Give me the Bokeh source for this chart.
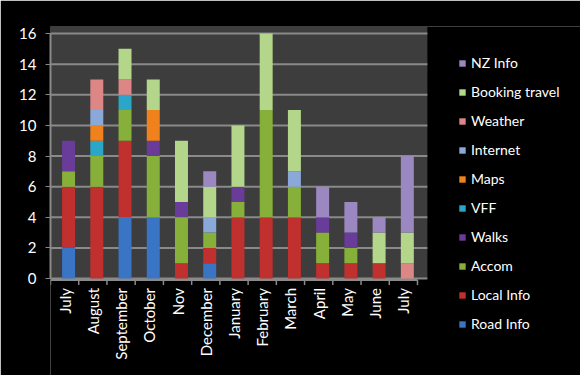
import math
from bokeh.plotting import figure
from bokeh.models import (ColumnDataSource, Range1d, FixedTicker, Legend, LegendItem)
from bokeh.core.properties import value
from bokeh.transform import dodge
from bokeh.embed import file_html
from bokeh.resources import INLINE

months = ["July", "August", "September", "October", "Nov", "December", "January",
          "February", "March", "April", "May", "June", "July"]

road_info = [2, 0, 4, 4, 0, 1, 0, 0, 0, 0, 0, 0, 0]
local_info = [4, 6, 5, 0, 1, 1, 4, 4, 4, 1, 1, 1, 0]
accom = [1, 2, 2, 4, 3, 1, 1, 7, 2, 2, 1, 0, 0]
walks = [2, 0, 0, 1, 1, 0, 1, 0, 0, 1, 1, 0, 0]
vff = [0, 1, 1, 0, 0, 0, 0, 0, 0, 0, 0, 0, 0]
maps = [0, 1, 0, 2, 0, 0, 0, 0, 0, 0, 0, 0, 0]
internet = [0, 1, 0, 0, 0, 1, 0, 0, 1, 0, 0, 0, 0]
weather = [0, 2, 1, 0, 0, 0, 0, 0, 0, 0, 0, 0, 1]
booking_travel = [0, 0, 2, 2, 4, 2, 4, 5, 4, 0, 0, 2, 2]
nz_info = [0, 0, 0, 0, 0, 1, 0, 0, 0, 2, 2, 1, 5]

y_ticks = [0, 2, 4, 6, 8, 10, 12, 14, 16]

series_names = ["Road Info", "Local Info", "Accom", "Walks", "VFF", "Maps",
                "Internet", "Weather", "Booking travel", "NZ Info"]
series_values = [road_info, local_info, accom, walks, vff, maps, internet,
                 weather, booking_travel, nz_info]
colors = ["#3a74c4", "#c0302e", "#86b03a", "#6a3c9a", "#2aa6c8", "#f0821e",
          "#8aa8d8", "#dc8686", "#b3d68a", "#9c88c0"]

FONT = "Lato"
GRID = "#8a8a8a"

n = len(months)
keys = ["s%d" % i for i in range(len(series_names))]
data = {"x": list(range(n))}
for k, v in zip(keys, series_values):
    data[k] = v
source = ColumnDataSource(data)

# frame covers the whole area right of the y axis, so the legend is not clipped
PX_X = 28.23   # pixels per category
PX_Y = 15.31   # pixels per unit
x_start = -0.5
x_end = x_start + 530 / PX_X
y_end = 16.46
y_start = y_end - 349 / PX_Y
wall_right = 12.85

p = figure(width=580, height=375, output_backend="svg", toolbar_location=None,
           x_range=Range1d(x_start, x_end), y_range=Range1d(y_start, y_end),
           x_axis_location=None,
           min_border_left=50, min_border_right=0, min_border_top=26,
           min_border_bottom=0)

p.border_fill_color = "black"
p.background_fill_color = "black"
p.outline_line_color = None
p.xgrid.grid_line_color = None
p.ygrid.grid_line_color = None

# plot-area wall
p.quad(left=[-0.5], right=[wall_right], bottom=[0], top=[y_end],
       fill_color="#3d3d3d", line_color=None)

# grid lines
p.segment(x0=[-0.5] * len(y_ticks), y0=y_ticks, x1=[wall_right] * len(y_ticks),
          y1=y_ticks, line_color=GRID, line_width=2)

renderers = p.vbar_stack(keys, x=dodge("x", 0.14), width=0.46, source=source,
                         color=colors, line_color=None)

# y axis
p.yaxis.ticker = FixedTicker(ticks=y_ticks)
p.yaxis.bounds = (0, 16)
p.yaxis.axis_line_color = GRID
p.yaxis.axis_line_width = 2
p.yaxis.major_tick_line_color = GRID
p.yaxis.major_tick_out = 5
p.yaxis.major_tick_in = 0
p.yaxis.minor_tick_line_color = None
p.yaxis.major_label_text_color = "white"
p.yaxis.major_label_text_font = FONT
p.yaxis.major_label_text_font_size = "15px"
p.yaxis.major_label_standoff = 9

# x axis (drawn as glyphs)
edges = [i - 0.5 for i in range(n + 1)]
p.segment(x0=[-0.5], y0=[-0.1], x1=[n - 0.5], y1=[-0.1], line_color=GRID, line_width=2)
p.segment(x0=edges, y0=[-0.1] * len(edges), x1=edges, y1=[-0.43] * len(edges),
          line_color=GRID, line_width=1.5)
label_src = ColumnDataSource({"x": list(range(n)), "y": [-0.62] * n, "text": months})
p.text(x="x", y="y", text="text", source=label_src, angle=math.pi / 2,
       text_align="right", text_baseline="middle", text_color="white",
       text_font=value(FONT), text_font_size="15px")

items = [LegendItem(label=nm, renderers=[r]) for nm, r in zip(series_names, renderers)]
items = items[::-1]
legend = Legend(items=items, location=(408, 37))
legend.background_fill_color = "black"
legend.background_fill_alpha = 1
legend.border_line_color = None
legend.border_line_alpha = 0
legend.label_text_color = "white"
legend.label_text_font = FONT
legend.label_text_font_size = "14px"
legend.glyph_width = 8
legend.glyph_height = 8
legend.label_height = 29
legend.label_standoff = 5
legend.spacing = 0
legend.padding = 5
legend.margin = 0
p.add_layout(legend)

open("out.html", "w").write(file_html(p, INLINE))
